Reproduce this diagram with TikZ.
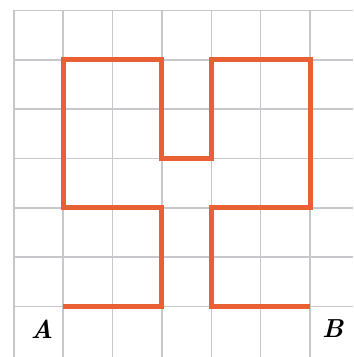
\documentclass[tikz,border=0pt]{standalone}
\definecolor{gridgray}{RGB}{200,200,204}
\definecolor{pathred}{RGB}{232,96,52}
\tikzset{
  gridline/.style={draw=gridgray, line width=0.9pt},
  redpath/.style={draw=pathred, line width=2.9pt, line join=miter},
  ptlabel/.style={font=\fontsize{15}{17}\selectfont\bfseries\itshape, inner sep=0pt}
}
\begin{document}
\begin{tikzpicture}[x=1cm,y=1cm]
  \useasboundingbox (-0.28,-0.02) rectangle (6.87,7.21);
  \fill[white] (-0.28,-0.02) rectangle (6.87,7.21);
  % grid
  \foreach \i in {0,...,6} {\draw[gridline] (\i,-0.02) -- (\i,7);}
  \foreach \j in {1,...,7} {\draw[gridline] (0,\j) -- (6.87,\j);}
  % red figure
  \draw[redpath] (1,1) -- (3,1) -- (3,3) -- (1,3) -- (1,6) -- (3,6) -- (3,4)
     -- (4,4) -- (4,6) -- (6,6) -- (6,3) -- (4,3) -- (4,1) -- (6,1);
  % labels
  \node[ptlabel] (A) at (0.57,0.55) {A};
  \node[ptlabel] (B) at (6.46,0.55) {B};
\end{tikzpicture}
\end{document}
